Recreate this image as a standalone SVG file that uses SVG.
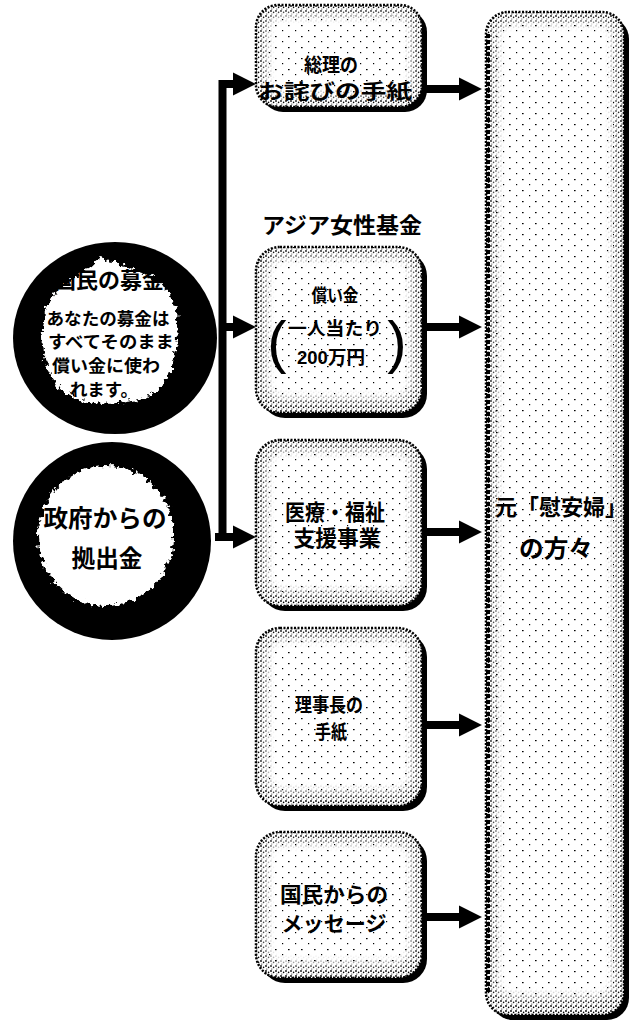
<svg xmlns="http://www.w3.org/2000/svg" width="633" height="1026" viewBox="0 0 633 1026">
<defs>
  <pattern id="stD" width="5" height="5" patternUnits="userSpaceOnUse">
    <rect width="5" height="5" fill="#fff"/>
    <circle cx="1" cy="1" r="0.9" fill="#000"/>
    <circle cx="3.6" cy="2.4" r="0.8" fill="#000"/>
    <circle cx="1.8" cy="4" r="0.6" fill="#000"/>
  </pattern>
  <pattern id="stL" width="13" height="11" patternUnits="userSpaceOnUse">
    <rect x="2" y="3" width="1.6" height="1.2" fill="#000"/>
    <rect x="9" y="8" width="1.2" height="1.2" fill="#000"/>
  </pattern>
  <filter id="rough" x="-20%" y="-20%" width="140%" height="140%">
    <feTurbulence type="fractalNoise" baseFrequency="0.22" numOctaves="2" seed="4" result="n"/>
    <feDisplacementMap in="SourceGraphic" in2="n" scale="11" xChannelSelector="R" yChannelSelector="G"/>
  </filter>
  <filter id="soft" x="-20%" y="-20%" width="140%" height="140%">
    <feGaussianBlur stdDeviation="5"/>
  </filter>
  <marker id="ah" viewBox="0 0 10 10" markerWidth="23" markerHeight="26" refX="3.5" refY="5" orient="auto" markerUnits="userSpaceOnUse">
    <path d="M0,0 L10,5 L0,10 z" fill="#000"/>
  </marker>
  <style>
    .shadow{fill:#000}
    .box{fill:url(#stD);stroke:#000;stroke-width:2.5;stroke-dasharray:2 1.5}
    .glow{fill:#fff;filter:url(#soft)}
    .spk{fill:url(#stL)}
    .edge{stroke:#000;stroke-width:4;stroke-dasharray:4 2;fill:none}
    .t{font-family:"Liberation Sans","Noto Sans CJK JP",sans-serif;font-weight:700;fill:#000;text-anchor:middle}
    .par{font-family:"Liberation Sans",sans-serif;font-weight:400;fill:#000;text-anchor:middle}
    .conn{stroke:#000;stroke-width:8;fill:none}
    .disc{fill:#000}
    .burst{fill:#fff;filter:url(#rough)}
  </style>
</defs>
<rect width="633" height="1026" fill="#fff"/>

<g id="connectors">
  <path class="conn" d="M222.5,541 V84 H241" marker-end="url(#ah)"/>
  <path class="conn" d="M222.5,327 H241" marker-end="url(#ah)"/>
  <path class="conn" d="M215,537 H241" marker-end="url(#ah)"/>
  <path class="conn" d="M424,89 H467" marker-end="url(#ah)"/>
  <path class="conn" d="M424,327 H467" marker-end="url(#ah)"/>
  <path class="conn" d="M424,532 H467" marker-end="url(#ah)"/>
  <path class="conn" d="M424,725 H467" marker-end="url(#ah)"/>
  <path class="conn" d="M424,917 H467" marker-end="url(#ah)"/>
</g>

<g id="donation">
  <ellipse class="disc" cx="115" cy="338" rx="102" ry="96"/>
  <path class="burst" d="M100,258 L118,262 L132,270 L150,276 L168,290 L176,310 L178,340 L172,370 L160,390 L140,400 L110,404 L80,400 L60,390 L48,370 L42,340 L45,310 L55,292 L72,280 L88,268 Z"/>
  <text class="t" x="109" y="288" font-size="22">国民の募金</text>
  <text class="t" x="108" y="325" font-size="17.5" textLength="123" lengthAdjust="spacingAndGlyphs">あなたの募金は</text>
  <text class="t" x="111" y="348" font-size="17.5" textLength="126" lengthAdjust="spacingAndGlyphs">すべてそのまま</text>
  <text class="t" x="106" y="372" font-size="17.5" textLength="108" lengthAdjust="spacingAndGlyphs">償い金に使わ</text>
  <text class="t" x="104" y="396" font-size="17.5">れます。</text>
</g>

<g id="government">
  <ellipse class="disc" cx="112" cy="541" rx="99" ry="99"/>
  <ellipse class="burst" cx="106" cy="536" rx="68" ry="70"/>
  <text class="t" x="105" y="527" font-size="24" textLength="123" lengthAdjust="spacingAndGlyphs">政府からの</text>
  <text class="t" x="107" y="567" font-size="24" textLength="71" lengthAdjust="spacingAndGlyphs">拠出金</text>
</g>

<g id="fund-title">
  <text class="t" x="342" y="233" font-size="22" textLength="160" lengthAdjust="spacingAndGlyphs">アジア女性基金</text>
</g>

<g id="letter-pm">
  <rect class="shadow" x="261" y="10" width="166" height="102" rx="22"/>
  <rect class="box" x="256" y="5" width="166" height="102" rx="22"/>
  <rect class="glow" x="266" y="15" width="146" height="80" rx="14"/>
  <rect class="spk" x="266" y="15" width="146" height="80" rx="14"/>
  <text class="t" x="331" y="72" font-size="19" textLength="54" lengthAdjust="spacingAndGlyphs">総理の</text>
  <text class="t" x="335" y="99" font-size="20" textLength="154" lengthAdjust="spacingAndGlyphs">お詫びの手紙</text>
</g>

<g id="atonement">
  <rect class="shadow" x="261" y="252" width="166" height="166" rx="24"/>
  <rect class="box" x="256" y="247" width="166" height="166" rx="24"/>
  <rect class="glow" x="266" y="257" width="146" height="142" rx="16"/>
  <rect class="spk" x="266" y="257" width="146" height="142" rx="16"/>
  <text class="t" x="335" y="302" font-size="18" textLength="47" lengthAdjust="spacingAndGlyphs">償い金</text>
  <text class="par" x="277" y="362" font-size="58">(</text>
  <text class="t" x="335" y="335" font-size="18" textLength="94" lengthAdjust="spacingAndGlyphs">一人当たり</text>
  <text class="t" x="331" y="364" font-size="18" textLength="68" lengthAdjust="spacingAndGlyphs">200万円</text>
  <text class="par" x="397" y="362" font-size="58">)</text>
</g>

<g id="medical">
  <rect class="shadow" x="261" y="445" width="166" height="166" rx="24"/>
  <rect class="box" x="256" y="440" width="166" height="166" rx="24"/>
  <rect class="glow" x="266" y="450" width="146" height="142" rx="16"/>
  <rect class="spk" x="266" y="450" width="146" height="142" rx="16"/>
  <text class="t" x="335" y="520" font-size="22" textLength="100" lengthAdjust="spacingAndGlyphs">医療・福祉</text>
  <text class="t" x="337" y="546" font-size="22" textLength="87" lengthAdjust="spacingAndGlyphs">支援事業</text>
</g>

<g id="letter-chair">
  <rect class="shadow" x="261" y="633" width="166" height="178" rx="24"/>
  <rect class="box" x="256" y="628" width="166" height="178" rx="24"/>
  <rect class="glow" x="266" y="638" width="146" height="154" rx="16"/>
  <rect class="spk" x="266" y="638" width="146" height="154" rx="16"/>
  <text class="t" x="329" y="712" font-size="19" textLength="68" lengthAdjust="spacingAndGlyphs">理事長の</text>
  <text class="t" x="331" y="739" font-size="19" textLength="32" lengthAdjust="spacingAndGlyphs">手紙</text>
</g>

<g id="message">
  <rect class="shadow" x="261" y="837" width="166" height="146" rx="24"/>
  <rect class="box" x="256" y="832" width="166" height="146" rx="24"/>
  <rect class="glow" x="266" y="842" width="146" height="122" rx="16"/>
  <rect class="spk" x="266" y="842" width="146" height="122" rx="16"/>
  <text class="t" x="334" y="902" font-size="21" textLength="108" lengthAdjust="spacingAndGlyphs">国民からの</text>
  <text class="t" x="334" y="931" font-size="21" textLength="105" lengthAdjust="spacingAndGlyphs">メッセージ</text>
</g>

<g id="recipients">
  <rect class="shadow" x="491" y="17" width="138" height="1003" rx="22"/>
  <rect class="box" x="486" y="12" width="138" height="1003" rx="22"/>
  <rect class="glow" x="496" y="22" width="118" height="975" rx="14"/>
  <rect class="spk" x="496" y="22" width="118" height="975" rx="14"/>
  <path class="edge" d="M488,34 V992"/>
  <text class="t" x="561" y="515" font-size="22" textLength="132" lengthAdjust="spacingAndGlyphs">元「慰安婦」</text>
  <text class="t" x="556" y="557" font-size="24" textLength="74" lengthAdjust="spacingAndGlyphs">の方々</text>
</g>
</svg>
